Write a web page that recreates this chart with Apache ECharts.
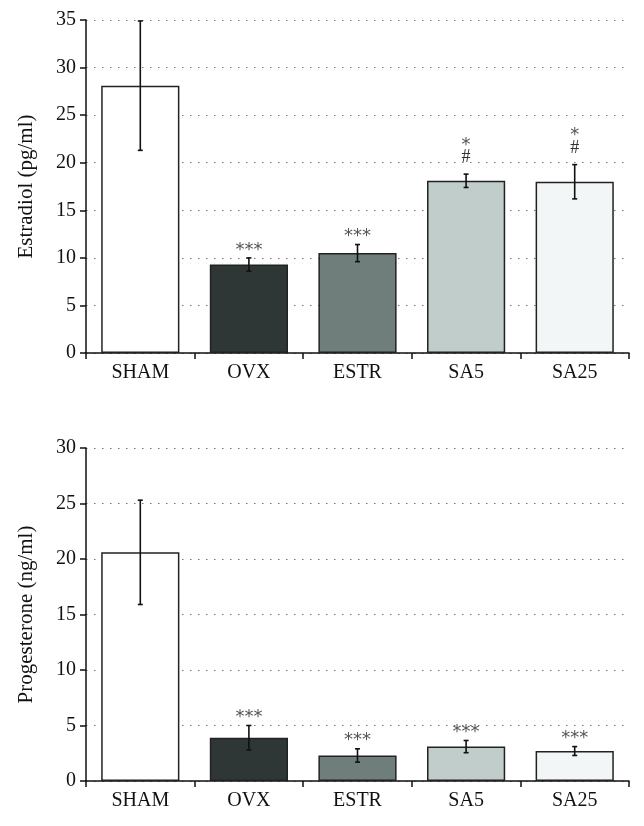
<!DOCTYPE html>
<html>
<head>
<meta charset="utf-8">
<script src="https://cdn.jsdelivr.net/npm/echarts@6/dist/echarts.min.js"></script>
<style>
html,body{margin:0;padding:0;background:#fff;}
#chart{width:644px;height:826px;}
</style>
</head>
<body>
<div id="chart"></div>
<script>
// ---- data ----
const categories = ['SHAM', 'OVX', 'ESTR', 'SA5', 'SA25'];
const estradiolMean = [28.1, 9.3, 10.5, 18.1, 18.0];
const estradiolErr = [6.8, 0.7, 0.9, 0.7, 1.8];
const estradiolMarks = ['', '***', '***', '*\n#', '*\n#'];
const progesteroneMean = [20.6, 3.9, 2.3, 3.1, 2.7];
const progesteroneErr = [4.7, 1.1, 0.6, 0.55, 0.4];
const progesteroneMarks = ['', '***', '***', '***', '***'];
const estradiolTicks = [0, 5, 10, 15, 20, 25, 30, 35];
const progesteroneTicks = [0, 5, 10, 15, 20, 25, 30];

// ---- styles ----
const barColors = ['#ffffff', '#2f3636', '#6f7e7b', '#c1cdca', '#f3f6f6'];
const FONT = 'Liberation Serif';

const chart = echarts.init(document.getElementById('chart'), null, {renderer: 'canvas'});

function barData(means) {
  return means.map((v, i) => ({value: v, itemStyle: {color: barColors[i]}}));
}
function errData(means, errs) {
  return means.map((v, i) => [i, v - errs[i], v + errs[i]]);
}
function errSeries(means, errs, marks, idx) {
  return {
    type: 'custom',
    xAxisIndex: idx, yAxisIndex: idx,
    data: errData(means, errs),
    z: 5,
    renderItem: function (params, api) {
      const x = api.value(0);
      const lo = api.coord([x, api.value(1)]);
      const hi = api.coord([x, api.value(2)]);
      const cw = 2.5;
      const st = {stroke: '#111', lineWidth: 1.6};
      const children = [
        {type: 'line', shape: {x1: hi[0], y1: hi[1], x2: lo[0], y2: lo[1]}, style: st},
        {type: 'line', shape: {x1: hi[0] - cw, y1: hi[1], x2: hi[0] + cw, y2: hi[1]}, style: st},
        {type: 'line', shape: {x1: lo[0] - cw, y1: lo[1], x2: lo[0] + cw, y2: lo[1]}, style: st}
      ];
      const m = marks[params.dataIndex];
      if (m) {
        const lines = m.split('\n');
        lines.forEach((t, k) => {
          const fromBottom = lines.length - 1 - k;
          const isStar = t.indexOf('*') >= 0;
          const yb = isStar ? (hi[1] + 1 - fromBottom * 21) : (hi[1] - 7.5);
          children.push({
            type: 'text',
            x: hi[0],
            y: yb,
            style: {
              text: t,
              align: 'center',
              verticalAlign: 'bottom',
              fill: isStar ? '#555' : '#333',
              font: (isStar ? '18px "DejaVu Sans"' : '18px "Liberation Serif"')
            }
          });
        });
      }
      return {type: 'group', children: children};
    }
  };
}

function yAxis(idx, max, name) {
  return {
    type: 'value', gridIndex: idx, min: 0, max: max, interval: 5,
    name: name, nameLocation: 'middle', nameGap: 49,
    nameTextStyle: {fontFamily: FONT, fontSize: 21, color: '#111'},
    axisLine: {show: true, lineStyle: {color: '#111', width: 1.5}},
    axisTick: {show: true, length: 6, lineStyle: {color: '#111', width: 1.5}},
    axisLabel: {fontFamily: FONT, fontSize: 20, color: '#111', margin: 10},
    splitLine: {show: true, lineStyle: {type: [1.5, 6.5], color: '#777', width: 1.2}}
  };
}
function xAxis(idx) {
  return {
    type: 'category', gridIndex: idx, data: categories,
    axisLine: {show: true, lineStyle: {color: '#111', width: 1.5}},
    axisTick: {show: true, length: 6, interval: 0, lineStyle: {color: '#111', width: 1.5}},
    axisLabel: {fontFamily: FONT, fontSize: 20, color: '#111', margin: 10, interval: 0},
    splitLine: {show: false}
  };
}

chart.setOption({
  animation: false,
  backgroundColor: '#fff',
  grid: [
    {left: 86, right: 15, top: 20, height: 333},
    {left: 86, right: 15, top: 448, height: 333}
  ],
  xAxis: [xAxis(0), xAxis(1)],
  yAxis: [yAxis(0, 35, 'Estradiol (pg/ml)'), yAxis(1, 30, 'Progesterone (ng/ml)')],
  series: [
    {type: 'bar', xAxisIndex: 0, yAxisIndex: 0, data: barData(estradiolMean), barWidth: '72%',
     itemStyle: {borderColor: '#222', borderWidth: 1.5}},
    errSeries(estradiolMean, estradiolErr, estradiolMarks, 0),
    {type: 'bar', xAxisIndex: 1, yAxisIndex: 1, data: barData(progesteroneMean), barWidth: '72%',
     itemStyle: {borderColor: '#222', borderWidth: 1.5}},
    errSeries(progesteroneMean, progesteroneErr, progesteroneMarks, 1)
  ]
});
</script>
</body>
</html>
